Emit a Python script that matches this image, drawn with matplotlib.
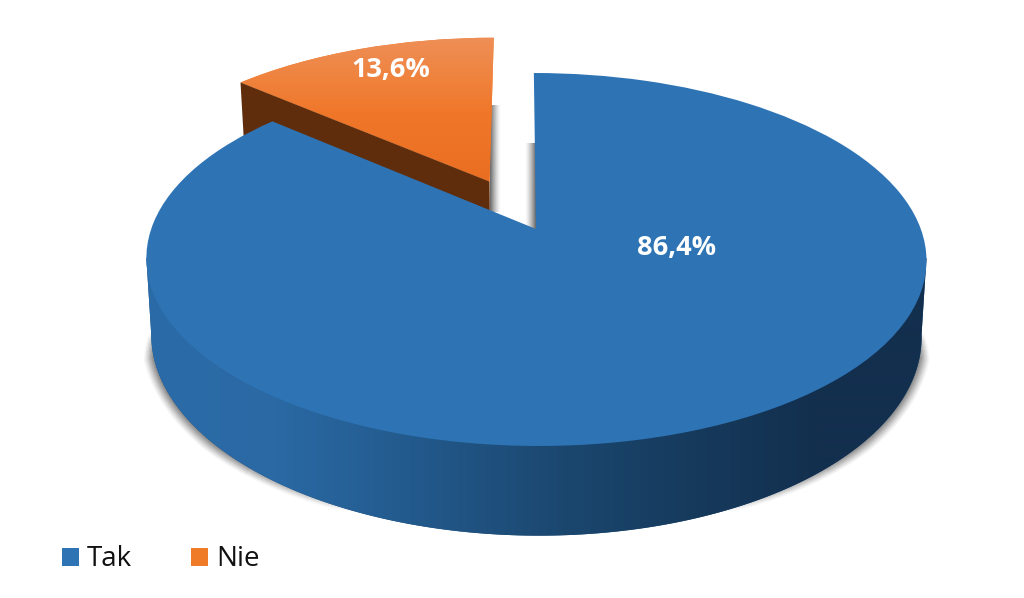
import numpy as np
import matplotlib
matplotlib.use("Agg")
import matplotlib.pyplot as plt
from matplotlib.patches import Polygon, Patch
from matplotlib.collections import LineCollection
from matplotlib.transforms import Transform
from matplotlib.colors import LinearSegmentedColormap, to_rgb

categories = ["Tak", "Nie"]
values = [86.4, 13.6]
explode = [0, 0.3]
colors = ["#2e74b5", "#ef7a27"]


class Persp(Transform):
    """Perspective view of the unit pie plane, in pixel-like data units."""
    input_dims = output_dims = 2
    is_separable = False
    has_inverse = False

    def __init__(self, cy, a, b, cx=536.0, k=0.1635, skew=2.5):
        super().__init__()
        self.p = (cx, cy, a, b, k, skew)

    def transform_non_affine(self, xy):
        cx, cy, a, b, k, skew = self.p
        xy = np.asarray(xy, float)
        u, v = xy[:, 0], xy[:, 1]
        w = 1 + k * v
        return np.column_stack([cx + (b * u - skew * v) / w, cy - a * v / w])


TOP = Persp(229.0, 181.5, 384.8)
BOTTOM = Persp(303.0, 194.6, 380.0)

fig = plt.figure(figsize=(10.24, 5.98), dpi=100, facecolor="white")
ax = fig.add_axes([0, 0, 1, 1])
wedges, _ = ax.pie(values, explode=explode, colors=colors, startangle=90,
                   counterclock=False, radius=1.0)
ax.set_aspect("auto")
ax.set_xlim(0, 1024)
ax.set_ylim(598, 0)
ax.axis("off")


def unit(deg, center=(0, 0)):
    t = np.radians(np.atleast_1d(deg))
    return np.column_stack([center[0] + np.cos(t), center[1] + np.sin(t)])


tak, nie = wedges
for w, z in ((tak, 6), (nie, 3)):
    w.set_transform(TOP + ax.transData)
    w.set_zorder(z)
    w.set_edgecolor("none")

FULL = (0, 1024, 598, 0)


def hgrad(stops, z, clip):
    cm = LinearSegmentedColormap.from_list("g", stops, N=1024)
    g = np.linspace(0, 1, 1024)[None, :]
    im = ax.imshow(g, cmap=cm, extent=FULL, aspect="auto", zorder=z, interpolation="bilinear")
    im.set_clip_path(clip)
    return im


# outline of the cake: side joint on top face, then the bottom rim
ang = np.linspace(189, 351, 400)
lower = BOTTOM.transform_non_affine(unit(ang))
left_top = TOP.transform_non_affine(unit([189]))
right_top = TOP.transform_non_affine(unit([351]))

# soft contact shadow round the lower sides of the cake, fading at both ends
for part, ramp in ((np.vstack([left_top + [2, 40], lower[:140]]), 1),
                   (np.vstack([lower[260:], right_top + [-2, 40]]), -1)):
    segs = np.stack([part[:-1], part[1:]], axis=1)
    n = len(segs)
    s = np.linspace(0, 1, n)
    fade = np.clip(s / 0.12, 0, 1) * np.clip((1 - s) / 0.45, 0, 1) ** 0.8
    if ramp < 0:
        fade = fade[::-1]
    for lw, a in zip(np.linspace(15, 1.5, 12), np.linspace(0.03, 0.09, 12)):
        lc = LineCollection(segs, linewidths=lw * (0.3 + 0.7 * fade), capstyle="butt", zorder=1,
                            colors=[(0.2, 0.2, 0.2, a * f) for f in fade])
        ax.add_collection(lc)

# shadows inside the gap between the slices
for ext, rgb, flip in (((490, 501, 212, 105), "#404040", False),
                       ((525, 536, 229, 143), "#404040", True)):
    col = np.zeros((1, 64, 4))
    col[..., :3] = to_rgb(rgb)
    col[..., 3] = np.linspace(0.85, 0, 64) ** 1.4
    if flip:
        col = col[:, ::-1]
    ax.imshow(col, extent=ext, aspect="auto", zorder=2, interpolation="bilinear")

# wall of the pulled-out slice (hidden further down by the big slice)
c = nie.center
edge_ang = nie.theta1 if abs(np.cos(np.radians(nie.theta1))) > abs(np.cos(np.radians(nie.theta2))) else nie.theta2
radial = np.vstack([[c], unit(edge_ang, c)])
wall_pts = np.vstack([TOP.transform_non_affine(radial),
                      BOTTOM.transform_non_affine(radial)[::-1]])
ax.add_patch(Polygon(wall_pts, closed=True, fc="#5f2d0b", ec="none", zorder=4))

# big slice: wall below the top face
body = Polygon(np.vstack([left_top, lower, right_top]), closed=True, fc="#1b4a75", ec="none", zorder=5)
ax.add_patch(body)
hgrad([(0.0, "#2c6eac"), (0.27, "#2a69a4"), (0.40, "#235a8d"), (0.55, "#1b476f"),
       (0.68, "#163a5c"), (0.80, "#132f4e"), (1.0, "#132f4e")], 5.5, body)

# orange face gradient, light at the far rim
cm = LinearSegmentedColormap.from_list("o", [(0, "#ee8f58"), (0.25, "#ef8440"),
                                             (0.5, "#f0772a"), (1, "#e96d20")], N=1024)
g = np.linspace(0, 1, 256)[:, None]
im = ax.imshow(g, cmap=cm, extent=(230, 500, 190, 36), aspect="auto", origin="upper",
               zorder=3.5, interpolation="bilinear")
im.set_clip_path(nie)

ax.set_xlim(0, 1024)
ax.set_ylim(598, 0)


def pct(v):
    return f"{v:.1f}".replace(".", ",") + "%"


for v, pos in zip(values, ((677, 248), (391, 70))):
    ax.text(pos[0], pos[1], pct(v), color="white", fontsize=19.5, fontweight="bold",
            family="Open Sans", ha="center", va="center", zorder=8)

handles = [Patch(fc="#2e74b5", ec="none"), Patch(fc="#ef7a27", ec="none")]
ax.legend(handles, categories, ncol=2, frameon=False, loc="lower left",
          bbox_to_anchor=(56 / 1024, 1 - 579 / 598), prop={"family": "Open Sans", "size": 20},
          labelcolor="#111111", handlelength=0.62, handleheight=0.62, handletextpad=0.3,
          columnspacing=2.1, borderpad=0.2, borderaxespad=0)

fig.savefig("out.png", dpi=100, facecolor="white")
